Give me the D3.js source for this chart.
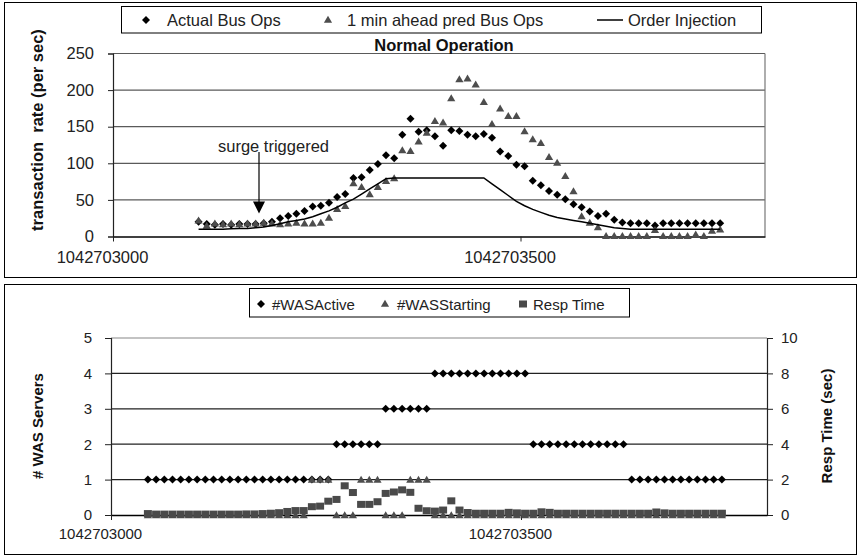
<!DOCTYPE html>
<html><head><meta charset="utf-8">
<script src="https://cdn.jsdelivr.net/npm/d3@7/dist/d3.min.js"></script>
<style>
html,body{margin:0;padding:0;background:#fff;}
svg{display:block;font-family:"Liberation Sans",Arial,Helvetica,sans-serif;}
</style></head>
<body>
<svg id="chart" width="864" height="559"></svg>
<script>
// ---------- DATA ----------
const xTickValues = [1042703000, 1042703500];
const xTickLabels = ["1042703000", "1042703500"];

// Top chart: "Normal Operation"
const topTimes = [
1042703105,1042703115,1042703125,1042703135,1042703145,1042703155,1042703165,1042703175,1042703185,1042703195,
1042703205,1042703215,1042703225,1042703235,1042703245,1042703255,1042703265,1042703275,1042703285,1042703295,
1042703305,1042703315,1042703325,1042703335,1042703345,1042703355,1042703365,1042703375,1042703385,1042703395,
1042703405,1042703415,1042703425,1042703435,1042703445,1042703455,1042703465,1042703475,1042703485,1042703495,
1042703505,1042703515,1042703525,1042703535,1042703545,1042703555,1042703565,1042703575,1042703585,1042703595,
1042703605,1042703615,1042703625,1042703635,1042703645,1042703655,1042703665,1042703675,1042703685,1042703695,
1042703705,1042703715,1042703725,1042703735,1042703745];
const actualBusOps = [
20,17,16,17,16,17,17,17,18,20,
25,28,31,35,41,42,46,54,58,80,
81,91,99,111,107,139,161,143,145,137,
124,145,144,139,137,140,135,116,110,98,
96,76,70,62,57,51,44,40,34,28,
31,23,19,18,18,18,15,18,18,18,
18,18,18,18,18];
const predBusOps = [
22,15,18,17,18,17,18,18,19,18,
17,18,19,18,18,19,26,38,42,73,
68,58,68,76,80,118,117,130,142,158,
156,189,215,216,208,184,154,175,165,165,
144,133,128,109,101,83,62,28,19,13,
1,1,1,1,1,1,9,1,1,1,
1,3,1,8,10];
const orderInjection = [
10,10,10,10,10.5,11,11,12,13,15,
17.5,20,22,24,27,31,35,40,46,51,
58,65,72,79,80,80,80,80,80,80,
80,80,80,80,80,80,72,64,56,48,
42,37,33,29,26,24,22,20,18,16,
14,12,11,10,10,10,10,10,10,10,
10,10,10,10,10];
const topYTicks = [0,50,100,150,200,250];
const topLegend = ["Actual Bus Ops","1 min ahead pred Bus Ops","Order Injection"];

// Bottom chart
const botTimes = [
1042703045,1042703055,1042703065,1042703075,1042703085,1042703095,
1042703105,1042703115,1042703125,1042703135,1042703145,1042703155,1042703165,1042703175,1042703185,1042703195,
1042703205,1042703215,1042703225,1042703235,1042703245,1042703255,1042703265,1042703275,1042703285,1042703295,
1042703305,1042703315,1042703325,1042703335,1042703345,1042703355,1042703365,1042703375,1042703385,1042703395,
1042703405,1042703415,1042703425,1042703435,1042703445,1042703455,1042703465,1042703475,1042703485,1042703495,
1042703505,1042703515,1042703525,1042703535,1042703545,1042703555,1042703565,1042703575,1042703585,1042703595,
1042703605,1042703615,1042703625,1042703635,1042703645,1042703655,1042703665,1042703675,1042703685,1042703695,
1042703705,1042703715,1042703725,1042703735,1042703745];
const wasActive = [
1,1,1,1,1,1,1,1,1,1,1,1,1,1,1,1,1,1,1,1,1,1,1,
2,2,2,2,2,2,
3,3,3,3,3,3,
4,4,4,4,4,4,4,4,4,4,4,4,
2,2,2,2,2,2,2,2,2,2,2,2,
1,1,1,1,1,1,1,1,1,1,1,1];
const wasStarting = [
0,0,0,0,0,0,0,0,0,0,0,0,0,0,0,0,0,0,0,0,
1,1,1,
0,0,0,
1,1,1,
0,0,0,
1,1,1,
0,0,0,0,0,0,0,0,0,0,0,0,0,0,0,0,0,0,0,0,0,0,0,0,0,0,0,0,0,0,0,0,0,0,0,0];
const respTime = [
0.08,0.05,0.05,0.05,0.05,0.05,0.05,0.05,0.05,0.05,0.05,0.05,0.06,0.06,0.08,
0.1,0.13,0.2,0.25,0.25,0.47,0.5,0.78,0.88,1.65,1.27,0.6,0.6,0.75,1.22,
1.3,1.42,1.28,0.38,0.24,0.22,0.28,0.8,0.28,0.14,
0.1,0.1,0.1,0.1,0.15,0.12,0.1,0.1,0.18,0.15,
0.1,0.1,0.1,0.1,0.1,0.1,0.1,0.1,0.1,0.1,
0.1,0.1,0.17,0.12,0.1,0.1,0.1,0.1,0.1,0.1,0.1];
const botYTicks = [0,1,2,3,4,5];
const botY2Ticks = [0,2,4,6,8,10];
const botLegend = ["#WASActive","#WASStarting","Resp Time"];

// ---------- DRAW ----------
const svg = d3.select("#chart");
const gridColor = "#5a5a5a";
const diamondPath = "M0,-4L4,0L0,4L-4,0Z";
const trianglePath = "M0,-3.8L4.1,3.2L-4.1,3.2Z";
const triColor = "#4d4d4d";

svg.append("rect").attr("x",4.5).attr("y",2.5).attr("width",852).attr("height",275)
  .attr("fill","none").attr("stroke","#000").attr("stroke-width",1);
svg.append("rect").attr("x",4.5).attr("y",284.5).attr("width",852).attr("height",270)
  .attr("fill","none").attr("stroke","#000").attr("stroke-width",1);

// ===== TOP =====
const xT = d3.scaleLinear().domain([1042703000,1042703800]).range([113,765]);
const yT = d3.scaleLinear().domain([0,250]).range([236.5,53.5]);
const topG = svg.append("g");

topG.append("g").selectAll("line").data(topYTicks.filter(d=>d>0)).join("line")
  .attr("x1",xT.range()[0]).attr("x2",xT.range()[1])
  .attr("y1",d=>yT(d)).attr("y2",d=>yT(d))
  .attr("stroke",gridColor).attr("stroke-width",1.2);
topG.append("line").attr("x1",765).attr("x2",765).attr("y1",yT(250)).attr("y2",yT(0))
  .attr("stroke","#777").attr("stroke-width",1.2);

const yAxisT = d3.axisLeft(yT).tickValues(topYTicks).tickSize(5).tickPadding(14).tickFormat(d3.format("d"));
const gyT = topG.append("g").attr("transform",`translate(${xT.range()[0]},0)`).call(yAxisT);
gyT.select(".domain").attr("stroke","#222").attr("stroke-width",1.2);
gyT.selectAll(".tick line").attr("stroke","#222");
gyT.selectAll("text").attr("font-size",16.5).attr("fill","#222").attr("font-family",null);
const xAxisT = d3.axisBottom(xT).tickValues(xTickValues).tickSize(5).tickSizeOuter(0)
  .tickFormat((d,i)=>xTickLabels[i]);
const gxT = topG.append("g").attr("transform",`translate(0,${yT(0)})`).call(xAxisT);
gxT.select(".domain").attr("stroke","#000").attr("stroke-width",1.4);
gxT.selectAll(".tick line").attr("stroke","#222");
gxT.selectAll("text").attr("font-size",16.5).attr("fill","#222").attr("font-family",null)
  .attr("dx",-11).attr("dy","1.1em");

const topData = topTimes.map((t,i)=>({t, a:actualBusOps[i], p:predBusOps[i], o:orderInjection[i]}));
topG.append("g").selectAll("path").data(topData).join("path")
  .attr("d",diamondPath).attr("fill","#000")
  .attr("transform",d=>`translate(${xT(d.t)},${yT(d.a)})`);
topG.append("g").selectAll("path").data(topData).join("path")
  .attr("d",trianglePath).attr("fill",triColor)
  .attr("transform",d=>`translate(${xT(d.t)},${yT(d.p)})`);
topG.append("path").datum(topData)
  .attr("d",d3.line().x(d=>xT(d.t)).y(d=>yT(d.o)))
  .attr("fill","none").attr("stroke","#000").attr("stroke-width",1.5);

topG.append("text").attr("x",444).attr("y",51).attr("text-anchor","middle")
  .attr("font-size",16.5).attr("font-weight","bold").attr("fill","#111").text("Normal Operation");
topG.append("text").attr("transform","translate(43,130) rotate(-90)").attr("text-anchor","middle")
  .attr("font-size",16.5).attr("font-weight","bold").attr("fill","#111")
  .style("white-space","pre").text("transaction  rate (per sec)");

topG.append("text").attr("x",218).attr("y",152).attr("font-size",16.5).attr("fill","#222").text("surge triggered");
topG.append("line").attr("x1",259).attr("x2",259).attr("y1",152).attr("y2",203)
  .attr("stroke","#000").attr("stroke-width",1.2);
topG.append("path").attr("d","M253,201.5L265,201.5L259,213.5Z").attr("fill","#000");

const lgT = topG.append("g");
lgT.append("rect").attr("x",121.5).attr("y",6.5).attr("width",640).attr("height",26.5)
  .attr("fill","#fff").attr("stroke","#000").attr("stroke-width",1);
lgT.append("path").attr("d",diamondPath).attr("fill","#000").attr("transform","translate(146,20)");
lgT.append("text").attr("x",167).attr("y",26).attr("font-size",16.5).attr("fill","#222").text(topLegend[0]);
lgT.append("path").attr("d",trianglePath).attr("fill",triColor).attr("transform","translate(328,19.5)");
lgT.append("text").attr("x",347).attr("y",26).attr("font-size",16.5).attr("fill","#222").text(topLegend[1]);
lgT.append("line").attr("x1",597).attr("x2",623).attr("y1",20).attr("y2",20).attr("stroke","#000").attr("stroke-width",1.5);
lgT.append("text").attr("x",628).attr("y",26).attr("font-size",16.5).attr("fill","#222").text(topLegend[2]);

// ===== BOTTOM =====
const xB = d3.scaleLinear().domain([1042703000,1042703800]).range([111,767]);
const yB = d3.scaleLinear().domain([0,5]).range([515,338]);
const yB2 = d3.scaleLinear().domain([0,10]).range([515,338]);
const botG = svg.append("g");

botG.append("g").selectAll("line").data(botYTicks.filter(d=>d>0)).join("line")
  .attr("x1",xB.range()[0]).attr("x2",xB.range()[1])
  .attr("y1",d=>yB(d)).attr("y2",d=>yB(d))
  .attr("stroke",d=>d===5?"#888":"#222").attr("stroke-width",1.2);

const yAxisB = d3.axisLeft(yB).tickValues(botYTicks).tickSize(6).tickPadding(13).tickFormat(d3.format("d"));
const gyB = botG.append("g").attr("transform",`translate(${xB.range()[0]},0)`).call(yAxisB);
gyB.select(".domain").attr("stroke","#222").attr("stroke-width",1.2);
gyB.selectAll(".tick line").attr("stroke","#222");
gyB.selectAll("text").attr("font-size",15).attr("fill","#222").attr("font-family",null);

const yAxisB2 = d3.axisRight(yB2).tickValues(botY2Ticks).tickSize(6).tickPadding(8).tickFormat(d3.format("d"));
const gyB2 = botG.append("g").attr("transform",`translate(${xB.range()[1]},0)`).call(yAxisB2);
gyB2.select(".domain").attr("stroke","#222").attr("stroke-width",1.2);
gyB2.selectAll(".tick line").attr("stroke","#222");
gyB2.selectAll("text").attr("font-size",15).attr("fill","#222").attr("font-family",null);

const xAxisB = d3.axisBottom(xB).tickValues(xTickValues).tickSize(5).tickSizeOuter(0)
  .tickFormat((d,i)=>xTickLabels[i]);
const gxB = botG.append("g").attr("transform",`translate(0,${yB(0)})`).call(xAxisB);
gxB.select(".domain").attr("stroke","#000").attr("stroke-width",1.4);
gxB.selectAll(".tick line").attr("stroke","#222");
gxB.selectAll("text").attr("font-size",15).attr("fill","#222").attr("font-family",null)
  .attr("dx",-11).attr("dy","1.05em");

const botData = botTimes.map((t,i)=>({t, a:wasActive[i], s:wasStarting[i], r:respTime[i]}));
botG.append("g").selectAll("path").data(botData).join("path")
  .attr("d",diamondPath).attr("fill","#000")
  .attr("transform",d=>`translate(${xB(d.t)},${yB(d.a)})`);
botG.append("g").selectAll("path").data(botData).join("path")
  .attr("d",trianglePath).attr("fill",triColor)
  .attr("transform",d=>`translate(${xB(d.t)},${yB(d.s)})`);
botG.append("g").selectAll("rect").data(botData).join("rect")
  .attr("x",d=>xB(d.t)-4).attr("y",d=>yB2(d.r)-3.5).attr("width",8).attr("height",7)
  .attr("fill","#4a4a4a");

botG.append("text").attr("transform","translate(43,426) rotate(-90)").attr("text-anchor","middle")
  .attr("font-size",15).attr("font-weight","bold").attr("fill","#111").text("# WAS Servers");
botG.append("text").attr("transform","translate(832,426) rotate(-90)").attr("text-anchor","middle")
  .attr("font-size",15).attr("font-weight","bold").attr("fill","#111").text("Resp Time (sec)");

const lgB = botG.append("g");
lgB.append("rect").attr("x",249.5).attr("y",288.5).attr("width",380).attr("height",28.5)
  .attr("fill","#fff").attr("stroke","#000").attr("stroke-width",1);
lgB.append("path").attr("d",diamondPath).attr("fill","#000").attr("transform","translate(261,304)");
lgB.append("text").attr("x",272).attr("y",309.5).attr("font-size",15).attr("fill","#222").text(botLegend[0]);
lgB.append("path").attr("d",trianglePath).attr("fill",triColor).attr("transform","translate(385,303.5)");
lgB.append("text").attr("x",397).attr("y",309.5).attr("font-size",15).attr("fill","#222").text(botLegend[1]);
lgB.append("rect").attr("x",519).attr("y",300.5).attr("width",8).attr("height",7).attr("fill","#4a4a4a");
lgB.append("text").attr("x",533).attr("y",309.5).attr("font-size",15).attr("fill","#222").text(botLegend[2]);
</script>
</body></html>
